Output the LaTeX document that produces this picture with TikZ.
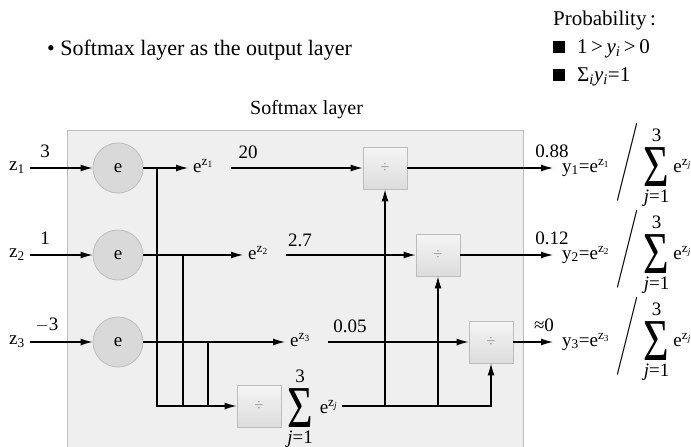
\documentclass[tikz,border=0pt]{standalone}
\usepackage{fontspec}
\setmainfont{Liberation Serif}
\usepackage{amsmath}
\usepackage{graphicx}
\usepackage{tikz}
\usetikzlibrary{arrows.meta,positioning}
\definecolor{layerfill}{HTML}{EFEFEF}
\definecolor{layeredge}{HTML}{BDBDBD}
\definecolor{expfill}{HTML}{D9D9D9}
\definecolor{divtop}{HTML}{F5F5F5}
\definecolor{divbottom}{HTML}{DCDCDC}
\definecolor{divsign}{HTML}{8E8E8E}
\newcommand{\figuretext}{\fontsize{19}{22}\selectfont}
\newcommand{\headtext}{\fontsize{21}{24}\selectfont}
\newcommand{\ez}[1]{e\textsuperscript{z\textsubscript{#1}}}
\newcommand{\bigsigma}{\scalebox{1}[1.35]{\fontsize{44}{44}\selectfont Σ}}
\newcommand{\sumstack}{\begin{tabular}[c]{@{}c@{}}3\\[-1pt]\bigsigma\\[-6pt]\textit{j}=1\end{tabular}}
\newcommand{\bigslash}{\raisebox{3pt}{\scalebox{1}[1.5]{$\left/\vphantom{\hbox{\sumstack}}\right.$}}}
\newcommand{\outexpr}[1]{y\textsubscript{#1}=\ez{#1}\hspace{7pt}\bigslash\hspace{4pt}\sumstack\hspace{4pt}\ez{\textit{j}}}

\begin{document}
\begin{tikzpicture}[x=1pt,y=-1pt,font=\figuretext,
  expnode/.style={circle,fill=expfill,draw=layeredge,line width=0.8pt,minimum size=50pt,inner sep=0pt},
  divbox/.style={draw=layeredge,line width=0.8pt,top color=divtop,bottom color=divbottom,minimum width=44pt,minimum height=42pt,inner sep=0pt,text=divsign,font=\fontsize{16}{18}\selectfont},
  flow/.style={-{Latex[length=12pt,width=7pt]},line width=1.2pt},
  wire/.style={line width=1.2pt},
  val/.style={inner sep=1pt},
  head/.style={anchor=base west,inner sep=0pt,font=\headtext}]
\useasboundingbox (0,0) rectangle (691,447);

% headings
\node[head,font=\fontsize{22}{26}\selectfont] (title) at (47,55) {\textbullet\ Softmax layer as the output layer};
\node[head] (prob) at (553,25) {Probability\,:};
\node[head] (cond1) at (553,53) {\rule{12pt}{12pt}\hspace{12pt}1\,>\,\textit{y}\textsubscript{\textit{i}}\,>\,0};
\node[head] (cond2) at (553,81) {\rule{12pt}{12pt}\hspace{12pt}Σ\textsubscript{\textit{i}}\textit{y}\textsubscript{\textit{i}}=1};
\node[anchor=base west,inner sep=0pt,font=\fontsize{20}{24}\selectfont] (layername) at (250,114) {Softmax layer};

% softmax layer
\node[draw=layeredge,fill=layerfill,line width=0.8pt,anchor=north west,minimum width=456pt,minimum height=330pt] (layer) at (67,130) {};

% inputs and exponentials
\node[val,inner xsep=5pt] (z1) at (17,168) {z\textsubscript{1}};
\node[val,inner xsep=5pt] (z2) at (17,255) {z\textsubscript{2}};
\node[val,inner xsep=5pt] (z3) at (17,342) {z\textsubscript{3}};
\node[expnode] (e1) at (118,168) {e};
\node[expnode] (e2) at (118,255) {e};
\node[expnode] (e3) at (118,342) {e};
\node[val] at (45,151) {3};
\node[val] at (45,238) {1};
\node[val] at (47,325) {$-$3};
\draw[flow] (z1) -- (e1);
\draw[flow] (z2) -- (e2);
\draw[flow] (z3) -- (e3);

\node[anchor=base west,inner xsep=5pt,inner ysep=1pt] (ez1) at (188,172) {\ez{1}};
\node[anchor=base west,inner xsep=5pt,inner ysep=1pt] (ez2) at (243,259) {\ez{2}};
\node[anchor=base west,inner xsep=5pt,inner ysep=1pt] (ez3) at (285,346) {\ez{3}};
\draw[flow] (e1) -- (e1 -| ez1.west);
\draw[flow] (e2) -- (e2 -| ez2.west);
\draw[flow] (e3) -- (e3 -| ez3.west);

% summation branch
\coordinate (b1) at (157,168);
\coordinate (b2) at (183,255);
\coordinate (b3) at (208,342);
\node[divbox] (dsum) at (259,406) {÷};
\node[anchor=base west,inner xsep=4pt,inner ysep=1pt] (sumlabel) at (283,413) {\sumstack\hspace{7pt}\ez{\textit{j}}};
\draw[flow] (b1) |- (dsum);
\draw[wire] (b2) -- (b2 |- dsum);
\draw[wire] (b3) -- (b3 |- dsum);

% division blocks
\node[divbox] (d1) at (385,168) {÷};
\node[divbox] (d2) at (438,255) {÷};
\node[divbox] (d3) at (491,342) {÷};
\draw[flow,shorten <=13pt] (ez1.east |- d1) -- (d1);
\draw[flow,shorten <=13pt] (ez2.east |- d2) -- (d2);
\draw[flow,shorten <=13pt] (ez3.east |- d3) -- (d3);
\node[val] at (248,152) {20};
\node[val] at (300,240) {2.7};
\node[val] at (350,326) {0.05};
\draw[flow] (sumlabel.east |- dsum) -| (d3.south);
\draw[flow] (d1 |- dsum) -- (d1.south);
\draw[flow] (d2 |- dsum) -- (d2.south);

% outputs
\node[anchor=base west,inner xsep=9pt,inner ysep=1pt] (y1) at (553,172) {\outexpr{1}};
\node[anchor=base west,inner xsep=9pt,inner ysep=1pt] (y2) at (553,259) {\outexpr{2}};
\node[anchor=base west,inner xsep=9pt,inner ysep=1pt] (y3) at (553,346) {\outexpr{3}};
\draw[flow] (d1) -- (d1 -| y1.west);
\draw[flow] (d2) -- (d2 -| y2.west);
\draw[flow] (d3) -- (d3 -| y3.west);
\node[val] at (552,151) {0.88};
\node[val] at (552,238) {0.12};
\node[val] at (544,325) {≈0};
\end{tikzpicture}
\end{document}
